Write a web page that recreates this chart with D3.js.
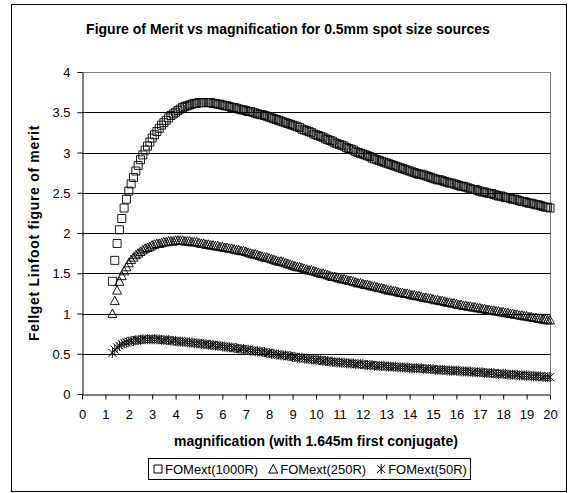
<!DOCTYPE html>
<html>
<head>
<meta charset="utf-8">
<script src="https://cdn.jsdelivr.net/npm/d3@7"></script>
<style>
  body { margin: 0; background: #fff; }
  text { font-family: "Liberation Sans", Arial, sans-serif; fill: #000; }
</style>
</head>
<body>
<div id="chart"></div>
<script>
// chart values
const chartTitle = "Figure of Merit vs magnification for 0.5mm spot size sources";
const xTitle = "magnification (with 1.645m first conjugate)";
const yTitle = "Fellget Linfoot figure of merit";
const seriesNames = ["FOMext(1000R)", "FOMext(250R)", "FOMext(50R)"];
const xTicks = [0,1,2,3,4,5,6,7,8,9,10,11,12,13,14,15,16,17,18,19,20];
const yTicks = [0,0.5,1,1.5,2,2.5,3,3.5,4];

const magnification = [
  1.3,1.4,1.5,1.6,1.7,1.8,1.9,
  2.0,2.1,2.2,2.3,2.4,2.5,2.6,2.7,2.8,2.9,
  3.0,3.1,3.2,3.3,3.4,3.5,3.6,3.7,3.8,3.9,
  4.0,4.1,4.2,4.3,4.4,4.5,4.6,4.7,4.8,4.9,
  5.0,5.1,5.2,5.3,5.4,5.5,5.6,5.7,5.8,5.9,
  6.0,6.1,6.2,6.3,6.4,6.5,6.6,6.7,6.8,6.9,
  7.0,7.1,7.2,7.3,7.4,7.5,7.6,7.7,7.8,7.9,
  8.0,8.1,8.2,8.3,8.4,8.5,8.6,8.7,8.8,8.9,
  9.0,9.1,9.2,9.3,9.4,9.5,9.6,9.7,9.8,9.9,
  10.0,10.1,10.2,10.3,10.4,10.5,10.6,10.7,10.8,10.9,
  11.0,11.1,11.2,11.3,11.4,11.5,11.6,11.7,11.8,11.9,
  12.0,12.1,12.2,12.3,12.4,12.5,12.6,12.7,12.8,12.9,
  13.0,13.1,13.2,13.3,13.4,13.5,13.6,13.7,13.8,13.9,
  14.0,14.1,14.2,14.3,14.4,14.5,14.6,14.7,14.8,14.9,
  15.0,15.1,15.2,15.3,15.4,15.5,15.6,15.7,15.8,15.9,
  16.0,16.1,16.2,16.3,16.4,16.5,16.6,16.7,16.8,16.9,
  17.0,17.1,17.2,17.3,17.4,17.5,17.6,17.7,17.8,17.9,
  18.0,18.1,18.2,18.3,18.4,18.5,18.6,18.7,18.8,18.9,
  19.0,19.1,19.2,19.3,19.4,19.5,19.6,19.7,19.8,19.9,
  20.0
];

const fom1000 = [
  1.40,1.66,1.87,2.04,2.18,2.31,2.42,
  2.52,2.61,2.69,2.77,2.84,2.91,2.97,3.03,3.08,3.13,
  3.18,3.22,3.26,3.30,3.34,3.37,3.40,3.43,3.46,3.48,
  3.50,3.52,3.54,3.56,3.57,3.58,3.59,3.60,3.61,3.61,
  3.62,3.62,3.62,3.62,3.62,3.62,3.61,3.61,3.60,3.60,
  3.59,3.58,3.58,3.57,3.56,3.56,3.55,3.54,3.53,3.53,
  3.52,3.51,3.51,3.50,3.49,3.48,3.47,3.47,3.46,3.45,
  3.44,3.43,3.42,3.41,3.40,3.39,3.38,3.37,3.36,3.35,
  3.34,3.33,3.32,3.31,3.29,3.28,3.27,3.26,3.25,3.23,
  3.22,3.21,3.20,3.19,3.17,3.16,3.15,3.14,3.12,3.11,
  3.10,3.09,3.08,3.06,3.05,3.04,3.03,3.01,3.00,2.99,
  2.98,2.97,2.96,2.95,2.93,2.92,2.91,2.90,2.89,2.88,
  2.87,2.86,2.85,2.84,2.83,2.82,2.81,2.80,2.79,2.78,
  2.77,2.76,2.75,2.74,2.73,2.73,2.72,2.71,2.70,2.69,
  2.68,2.67,2.66,2.66,2.65,2.64,2.63,2.62,2.62,2.61,
  2.60,2.59,2.58,2.58,2.57,2.56,2.55,2.54,2.54,2.53,
  2.52,2.51,2.51,2.50,2.49,2.49,2.48,2.47,2.46,2.46,
  2.45,2.44,2.44,2.43,2.42,2.42,2.41,2.40,2.39,2.39,
  2.38,2.37,2.37,2.36,2.35,2.35,2.34,2.33,2.32,2.32,
  2.31
];

const fom250 = [
  1.00,1.16,1.29,1.40,1.47,1.53,1.58,
  1.63,1.67,1.70,1.73,1.75,1.77,1.79,1.81,1.82,1.83,
  1.85,1.86,1.87,1.87,1.88,1.89,1.89,1.90,1.90,1.90,
  1.91,1.91,1.91,1.91,1.90,1.90,1.90,1.89,1.89,1.89,
  1.88,1.87,1.87,1.86,1.86,1.85,1.85,1.84,1.84,1.83,
  1.83,1.82,1.82,1.81,1.81,1.80,1.79,1.79,1.78,1.78,
  1.77,1.76,1.75,1.74,1.74,1.73,1.72,1.71,1.70,1.70,
  1.69,1.68,1.67,1.66,1.65,1.65,1.64,1.63,1.62,1.61,
  1.60,1.59,1.58,1.58,1.57,1.56,1.55,1.54,1.54,1.53,
  1.52,1.51,1.50,1.50,1.49,1.48,1.47,1.46,1.46,1.45,
  1.44,1.43,1.43,1.42,1.41,1.41,1.40,1.39,1.38,1.38,
  1.37,1.36,1.36,1.35,1.34,1.34,1.33,1.32,1.32,1.31,
  1.30,1.29,1.29,1.28,1.28,1.27,1.26,1.26,1.25,1.25,
  1.24,1.23,1.23,1.22,1.22,1.21,1.20,1.20,1.19,1.19,
  1.18,1.17,1.17,1.16,1.16,1.15,1.14,1.14,1.13,1.13,
  1.12,1.11,1.11,1.10,1.10,1.09,1.09,1.08,1.08,1.07,
  1.07,1.06,1.06,1.05,1.05,1.04,1.04,1.03,1.03,1.02,
  1.02,1.01,1.01,1.00,1.00,0.99,0.99,0.98,0.98,0.97,
  0.97,0.96,0.96,0.95,0.95,0.94,0.94,0.93,0.93,0.92,
  0.92
];

const fom50 = [
  0.51,0.55,0.58,0.60,0.62,0.63,0.64,
  0.65,0.66,0.66,0.67,0.67,0.67,0.68,0.68,0.68,0.68,
  0.68,0.68,0.68,0.68,0.67,0.67,0.67,0.67,0.66,0.66,
  0.66,0.65,0.65,0.65,0.65,0.64,0.64,0.64,0.63,0.63,
  0.63,0.62,0.62,0.62,0.61,0.61,0.61,0.60,0.60,0.60,
  0.59,0.59,0.58,0.58,0.58,0.57,0.57,0.56,0.56,0.56,
  0.55,0.55,0.54,0.54,0.53,0.53,0.53,0.52,0.52,0.51,
  0.51,0.50,0.50,0.49,0.49,0.48,0.48,0.48,0.47,0.47,
  0.46,0.46,0.45,0.45,0.45,0.44,0.44,0.43,0.43,0.43,
  0.42,0.42,0.42,0.41,0.41,0.41,0.40,0.40,0.40,0.39,
  0.39,0.39,0.39,0.38,0.38,0.38,0.38,0.37,0.37,0.37,
  0.37,0.36,0.36,0.36,0.36,0.35,0.35,0.35,0.35,0.35,
  0.34,0.34,0.34,0.34,0.34,0.33,0.33,0.33,0.33,0.33,
  0.32,0.32,0.32,0.32,0.32,0.32,0.31,0.31,0.31,0.31,
  0.31,0.30,0.30,0.30,0.30,0.30,0.29,0.29,0.29,0.29,
  0.29,0.29,0.28,0.28,0.28,0.28,0.28,0.27,0.27,0.27,
  0.27,0.27,0.26,0.26,0.26,0.26,0.26,0.25,0.25,0.25,
  0.25,0.25,0.24,0.24,0.24,0.24,0.24,0.23,0.23,0.23,
  0.23,0.23,0.22,0.22,0.22,0.22,0.22,0.21,0.21,0.21,
  0.21
];

// marker shapes, one per series (square, triangle, asterisk)
const markerPaths = [
  "M-4,-4H4V4H-4Z",
  "M0,-4.5L4.5,4H-4.5Z",
  "M-4,-4L4,4M-4,4L4,-4M0,-5V5"
];

const W = 568, H = 493;
const plot = { left: 82, right: 550, top: 72, bottom: 394 };

const svg = d3.select("#chart").append("svg")
  .attr("width", W)
  .attr("height", H);

// outer chart frame
svg.append("rect")
  .attr("x", 11.5).attr("y", 4.5)
  .attr("width", 555).attr("height", 487)
  .attr("fill", "#fff")
  .attr("stroke", "#000");

const x = d3.scaleLinear().domain([0, 20]).range([plot.left, plot.right]);
const y = d3.scaleLinear().domain([0, 4]).range([plot.bottom, plot.top]);

// gridlines
svg.append("g")
  .selectAll("line")
  .data(yTicks.filter(d => d > 0 && d < 4))
  .enter().append("line")
  .attr("x1", plot.left).attr("x2", plot.right)
  .attr("y1", d => Math.round(y(d)) + 0.5)
  .attr("y2", d => Math.round(y(d)) + 0.5)
  .attr("stroke", "#000");

// plot area border, top and right in grey
svg.append("path")
  .attr("d", `M${plot.left},${plot.top + 0.5}H${plot.right + 0.5}V${plot.bottom}`)
  .attr("fill", "none")
  .attr("stroke", "#808080");

// axes
const xAxis = svg.append("g")
  .attr("transform", `translate(0,${plot.bottom + 0.5})`)
  .call(d3.axisBottom(x).tickValues(xTicks).tickSize(5).tickSizeOuter(0).tickPadding(10));
const yAxis = svg.append("g")
  .attr("transform", `translate(${plot.left + 0.5},0)`)
  .call(d3.axisLeft(y).tickValues(yTicks).tickSize(5).tickSizeOuter(0).tickPadding(7)
    .tickFormat(d3.format("")));

[xAxis, yAxis].forEach(a => {
  a.select(".domain").attr("stroke", "#000");
  a.selectAll(".tick line").attr("stroke", "#000");
  a.selectAll(".tick text")
    .attr("font-family", "Liberation Sans, Arial, sans-serif")
    .attr("font-size", 13)
    .attr("fill", "#000");
});
yAxis.selectAll(".tick text").attr("dy", "0.35em");

// series markers
const allSeries = [fom1000, fom250, fom50];
allSeries.forEach((vals, i) => {
  svg.append("g")
    .selectAll("path")
    .data(vals)
    .enter().append("path")
    .attr("transform", (d, j) => `translate(${x(magnification[j])},${y(d)})`)
    .attr("d", markerPaths[i])
    .attr("fill", "none")
    .attr("stroke", "#000")
    .attr("stroke-width", 0.9);
});

// titles
svg.append("text")
  .attr("x", 288).attr("y", 34)
  .attr("text-anchor", "middle")
  .attr("font-size", 14).attr("font-weight", "bold")
  .text(chartTitle);

svg.append("text")
  .attr("x", (plot.left + plot.right) / 2).attr("y", 446)
  .attr("text-anchor", "middle")
  .attr("font-size", 14).attr("font-weight", "bold")
  .text(xTitle);

svg.append("text")
  .attr("transform", `translate(39,${(plot.top + plot.bottom) / 2}) rotate(-90)`)
  .attr("text-anchor", "middle")
  .attr("font-size", 14).attr("font-weight", "bold")
  .attr("letter-spacing", 0.7)
  .text(yTitle);

// legend
const legend = svg.append("g");
const legendBox = legend.append("rect")
  .attr("fill", "#fff").attr("stroke", "#000");
let cx = 0;
seriesNames.forEach((name, i) => {
  legend.append("path")
    .attr("transform", `translate(${cx + 5},0)`)
    .attr("d", markerPaths[i])
    .attr("fill", "none").attr("stroke", "#000");
  const t = legend.append("text")
    .attr("x", cx + 12).attr("y", 4.5)
    .attr("font-size", 13)
    .text(name);
  cx += 12 + t.node().getComputedTextLength() + 10;
});
const legW = cx - 10 + 8;
legendBox
  .attr("x", -4.5).attr("y", -10.5)
  .attr("width", legW).attr("height", 21);
legend.attr("transform", `translate(${Math.round(310 - legW / 2 + 4)},469)`);
</script>
</body>
</html>
